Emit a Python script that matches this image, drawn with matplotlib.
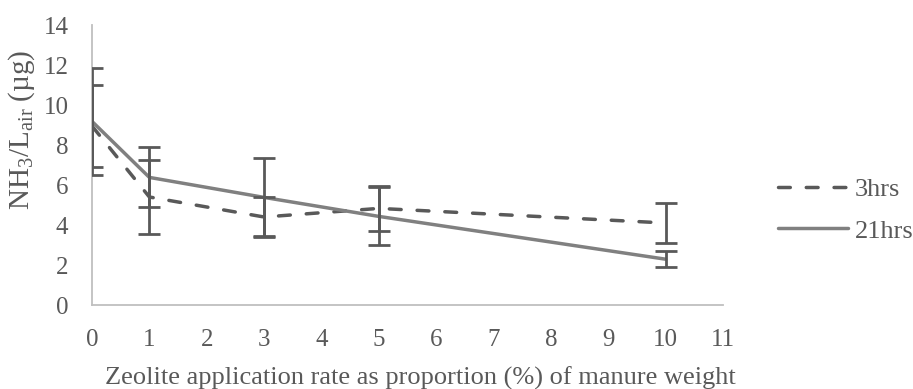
import matplotlib
matplotlib.use("Agg")
import matplotlib.pyplot as plt

# ── Data ──────────────────────────────────────────────────────────────────────
rates = [0, 1, 3, 5, 10]

nh3_3hrs = [8.95, 5.4, 4.4, 4.83, 4.1]
err_3hrs = [2.05, 1.86, 1.0, 1.12, 1.0]

nh3_21hrs = [9.18, 6.38, 5.38, 4.43, 2.29]
err_21hrs = [2.67, 1.5, 1.95, 1.45, 0.4]

series_labels = ["3hrs", "21hrs"]

# ── Style ─────────────────────────────────────────────────────────────────────
plt.rcParams["font.family"] = ["Liberation Serif", "DejaVu Serif"]
plt.rcParams["mathtext.default"] = "regular"

text_col = "#595959"
axis_col = "#bfbfbf"
dash_col = "#595959"
solid_col = "#808080"
err_col = "#595959"

fig = plt.figure(figsize=(9.13, 3.89), dpi=100)
ax = fig.add_axes([92 / 913, 1 - 305 / 389, (723 - 92) / 913, (305 - 25) / 389])

ax.plot(rates, nh3_3hrs, color=dash_col, lw=2.5, ls=(0, (3.4, 4.6)),
        dash_capstyle="round", label=series_labels[0], zorder=3)
ax.plot(rates, nh3_21hrs, color=solid_col, lw=2.5, solid_capstyle="round",
        label=series_labels[1], zorder=3)

ax.errorbar(rates, nh3_3hrs, yerr=err_3hrs, fmt="none", ecolor=err_col,
            elinewidth=2, capsize=8, capthick=2, zorder=4)
ax.errorbar(rates, nh3_21hrs, yerr=err_21hrs, fmt="none", ecolor=err_col,
            elinewidth=2, capsize=8, capthick=2, zorder=4)

ax.set_xlim(0, 11)
ax.set_ylim(0, 14)
ax.set_xticks(range(0, 12))
ax.set_yticks(range(0, 15, 2))
ax.tick_params(length=0, labelsize=18, labelcolor=text_col)
ax.tick_params(axis="x", pad=17)
ax.tick_params(axis="y", pad=17)

for s in ("top", "right"):
    ax.spines[s].set_visible(False)
for s in ("left", "bottom"):
    ax.spines[s].set_color(axis_col)
    ax.spines[s].set_linewidth(1.3)

fig.text(22 / 913, 1 - 130 / 389, "NH$_3$/L$_{air}$ (µg)", rotation=90,
         ha="center", va="center", fontsize=21, color=text_col)
fig.text(420 / 913, 1 - 378 / 389, "Zeolite application rate as proportion (%) of manure weight",
         ha="center", va="center", fontsize=19, color=text_col)

leg = fig.legend(loc="center left", bbox_to_anchor=(778 / 913, 1 - 210 / 389),
                 frameon=False, fontsize=19, handlelength=2.65, handletextpad=0.27,
                 labelspacing=0.7, borderpad=0, borderaxespad=0, labelcolor=text_col)

fig.savefig("out.png", dpi=100)
plt.close()
